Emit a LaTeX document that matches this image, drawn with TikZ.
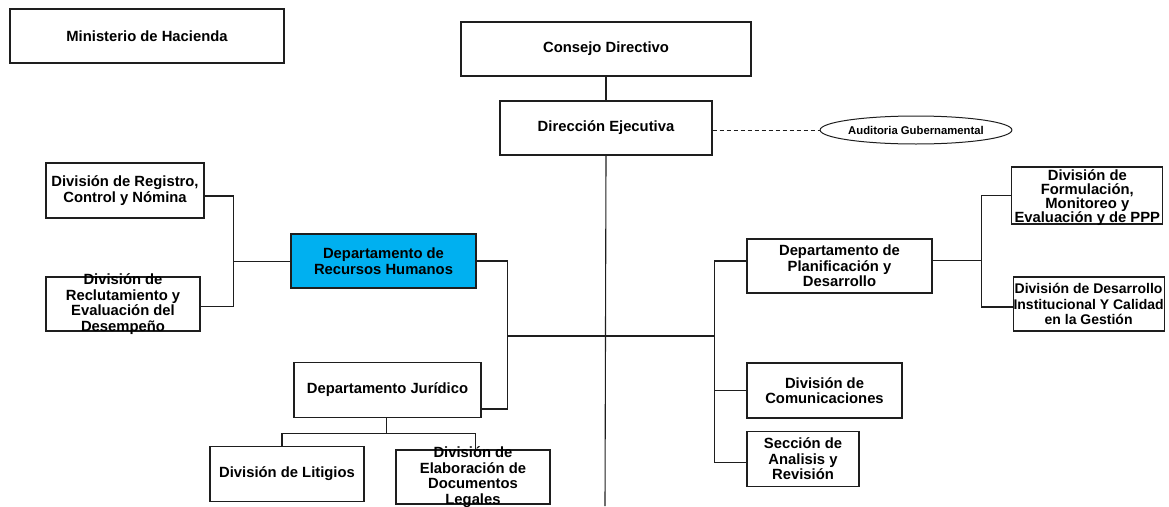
\documentclass[tikz,border=0pt]{standalone}
\usepackage{fontspec}
\setmainfont{Liberation Sans}
\usetikzlibrary{shapes.geometric}
\definecolor{rrhhblue}{RGB}{0,176,240}
\definecolor{edge}{RGB}{30,30,30}
\tikzset{
  unit/.style={draw=edge, line width=1.1pt, inner sep=0pt, fill=white},
  caption/.style={font=\bfseries\fontsize{14.8}{15.5}\selectfont, align=center, inner sep=0pt},
  link/.style={draw=edge, line width=1.1pt},
}
% a box of given size whose text is centred on it without resizing it
\newcommand{\orgbox}[6][]{%
  \node[unit, #1, minimum width=#4pt, minimum height=#5pt] (#2) at (#3) {};
  \node[caption] (#2-t) at (#2.center) {#6};
}
\begin{document}
\begin{tikzpicture}[x=1pt, y=-1pt]
\useasboundingbox (0,0) rectangle (1169,506);

% top of the structure
\orgbox{min}{147,36}{274}{54}{Ministerio de Hacienda}
\orgbox{cons}{606,49}{290}{54}{Consejo Directivo}
\orgbox{dir}{606,128}{212}{54}{Dirección Ejecutiva}
\node[draw=edge, line width=1pt, ellipse, inner sep=0pt, minimum width=167pt, minimum height=28pt,
      font=\bfseries\fontsize{11.3}{12}\selectfont] (aud) at (916,130) {Auditoria Gubernamental};

% left branch
\orgbox{reg}{125,190.5}{158}{55}{División de Registro,\\Control y Nómina}
\orgbox{recl}{123,304}{154}{54}{División de\\Reclutamiento y\\Evaluación del\\Desempeño}
\orgbox[fill=rrhhblue]{rrhh}{383.5,261}{185}{54}{Departamento de\\Recursos Humanos}
\orgbox{jur}{387.5,390}{187}{55}{Departamento Jurídico}
\orgbox{lit}{287,474}{154}{55}{División de Litigios}
\orgbox{elab}{473,477}{154}{54}{División de\\Elaboración de\\Documentos\\Legales}

% right branch
\orgbox{plan}{839.5,266}{185}{54}{Departamento de\\Planificación y\\Desarrollo}
\orgbox{com}{824.5,390.5}{155}{55}{División de\\Comunicaciones}
\orgbox{sec}{803,459}{112}{55}{Sección de\\Analisis y\\Revisión}
\node[unit, minimum width=151pt, minimum height=57pt] (form) at (1087.3,195.5) {};
\node[caption, font=\bfseries\fontsize{14.8}{14}\selectfont] (form-t) at (1087.3,198) {División de\\Formulación,\\Monitoreo y\\Evaluación y de PPP};
\node[unit, minimum width=151pt, minimum height=54pt] (inst) at (1088.6,304) {};
\node[caption, font=\bfseries\fontsize{14}{15.5}\selectfont] (inst-t) at (inst.center) {División de Desarrollo\\Institucional Y Calidad\\en la Gestión};

% junction points
\coordinate (bot) at (605,506);
\coordinate (lb) at (507.5,336);
\coordinate (rb) at (714.3,336);
\coordinate (hb) at (233.3,261.7);
\coordinate (pb) at (981.7,260.7);
\coordinate (jb) at (386.7,433.3);

% main spine
\draw[link] (cons.south) -- (dir.north);
\draw[link] (dir.south) -- (bot);
\draw[link, line width=1pt, dash pattern=on 4.5pt off 2.5pt] (dir.east |- aud.west) -- (aud.west);

% staff units hanging from the spine
\draw[link] (lb) -- (rb);
\draw[link] (rrhh.east) -| (lb);
\draw[link] (lb) |- ([yshift=-19pt]jur.east);
\draw[link] ([yshift=5pt]plan.west) -| (rb);
\draw[link] (rb) |- (com.west);
\draw[link] (rb) |- ([yshift=-3.5pt]sec.west);

% human resources divisions
\draw[link] (hb -| rrhh.west) -- (hb);
\draw[link] ([yshift=-5.5pt]reg.east) -| (hb);
\draw[link] ([yshift=-2.7pt]recl.east) -| (hb);

% legal divisions
\draw[link] (jb |- jur.south) -- (jb);
\draw[link] (jb) -| ([xshift=-5pt]lit.north);
\draw[link] (jb) -| ([xshift=2.7pt]elab.north);

% planning divisions
\draw[link] (pb -| plan.east) -- (pb);
\draw[link] (form.west) -| (pb);
\draw[link] ([yshift=-3pt]inst.west) -| (pb);
\end{tikzpicture}
\end{document}
